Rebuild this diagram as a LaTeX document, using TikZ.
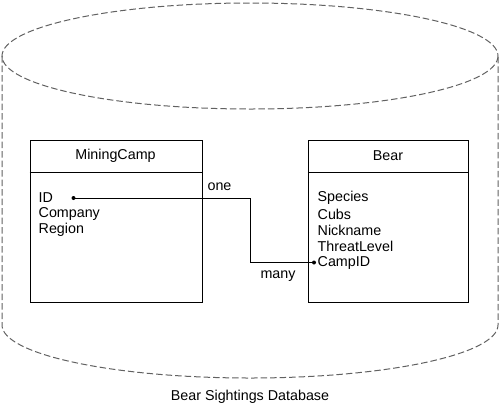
\documentclass[tikz,border=0pt]{standalone}
\usepackage{fontspec}
\setmainfont{Liberation Sans}
\begin{document}
\begin{tikzpicture}[x=1pt,y=-1pt,
  dbline/.style={draw=black!62, dash pattern=on 6.5pt off 3pt, line width=1pt},
  tbox/.style={draw, line width=1pt, minimum width=172pt, minimum height=162.5pt, inner sep=0pt, anchor=north west},
  txt/.style={font=\fontsize{14.3}{16}\selectfont, inner sep=0pt, anchor=west},
  ttl/.style={font=\fontsize{14.3}{16}\selectfont, inner sep=0pt},
  conn/.style={line width=1pt},
  dot/.style={circle, fill=black, inner sep=0pt, minimum size=4pt}]
\useasboundingbox (0,0) rectangle (500,405);
% cylinder
\draw[dbline] (250,56) ellipse[x radius=248, y radius=53];
\draw[dbline] (2,56) -- (2,325) arc[start angle=180, end angle=0, x radius=248, y radius=53] -- (498,56);
\node[ttl] (db) at (250,397) {Bear Sightings Database};
% MiningCamp table
\node[tbox] (mc) at (29.5,139.5) {};
\draw[line width=1pt] ([yshift=-33pt]mc.north west) -- ([yshift=-33pt]mc.north east);
\node[ttl] (mct) at (115.5,156) {MiningCamp};
\node[txt] (mcid) at (38.5,198) {ID};
\node[txt] (mcco) at (38.5,214) {Company};
\node[txt] (mcre) at (38.5,230) {Region};
% Bear table
\node[tbox, minimum width=160.5pt] (br) at (307.8,139.5) {};
\draw[line width=1pt] ([yshift=-33pt]br.north west) -- ([yshift=-33pt]br.north east);
\node[ttl] (brt) at (388,156) {Bear};
\node[txt] (brsp) at (317.5,198) {Species};
\node[txt] (brcu) at (317.5,214) {Cubs};
\node[txt] (brni) at (317.5,230) {Nickname};
\node[txt] (brth) at (317.5,246.5) {ThreatLevel};
\node[txt] (brca) at (317.5,263) {CampID};
% connector
\node[dot] (d1) at (73.5,198) {};
\node[dot] (d2) at (314,262.5) {};
\coordinate (k1) at (250,198);
\coordinate (k2) at (250,262.5);
\draw[conn] (d1.center) -- (k1) -- (k2) -- (d2.center);
\node[ttl] (one) at (219.5,187) {one};
\node[ttl] (many) at (278,276) {many};
\end{tikzpicture}
\end{document}
